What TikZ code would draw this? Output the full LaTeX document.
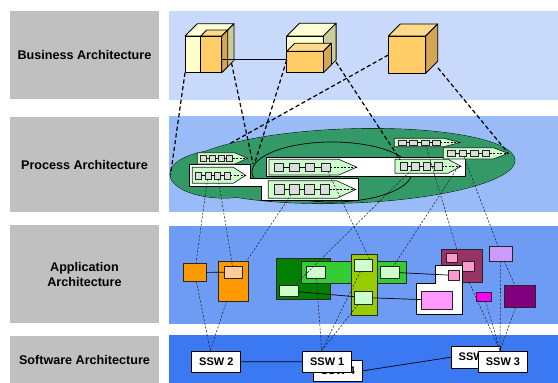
\documentclass[tikz,border=0pt]{standalone}
\usepackage{fontspec}
\setmainfont{Liberation Sans}
\definecolor{lgray}{HTML}{C0C0C0}
\definecolor{bandA}{HTML}{C9D9FB}
\definecolor{bandB}{HTML}{99BBF8}
\definecolor{bandC}{HTML}{6E9CF5}
\definecolor{bandD}{HTML}{3A79F2}
\definecolor{paleF}{HTML}{FFFFCC}
\definecolor{paleT}{HTML}{FFFFD6}
\definecolor{paleS}{HTML}{CCCC99}
\definecolor{orF}{HTML}{FFCC66}
\definecolor{orT}{HTML}{FFD98C}
\definecolor{orS}{HTML}{D4A653}
\definecolor{pgreen}{HTML}{339966}
\definecolor{lgreen}{HTML}{CCFFCC}
\definecolor{sqgray}{HTML}{DDDDDD}
\definecolor{aorange}{HTML}{FF9900}
\definecolor{apeach}{HTML}{FFCC99}
\definecolor{adkgreen}{HTML}{008000}
\definecolor{abrgreen}{HTML}{33CC33}
\definecolor{aygreen}{HTML}{99CC00}
\definecolor{amaroon}{HTML}{993366}
\definecolor{apink}{HTML}{FF99CC}
\definecolor{aviolet}{HTML}{FF99FF}
\definecolor{alilac}{HTML}{CC99FF}
\definecolor{amagenta}{HTML}{FF00FF}
\definecolor{apurple}{HTML}{800080}
\tikzset{
  lbl/.style={fill=lgray, minimum width=149pt, inner sep=0pt, align=center,
    font=\fontsize{12.6}{15}\selectfont\bfseries},
  cubeline/.style={draw=black, line width=0.8pt, line join=round},
  bigdash/.style={line width=1.2pt, dash pattern=on 4.2pt off 2.6pt},
  smalldash/.style={line width=0.55pt, dash pattern=on 2.2pt off 1.6pt, draw=black!85},
  arrowbox/.style={draw=black!85, fill=lgreen, line width=0.7pt},
  sq/.style={draw=black!85, fill=sqgray, line width=0.6pt, inner sep=0pt, outer sep=0pt},
  sqline/.style={line width=0.6pt},
  taildash/.style={line width=0.5pt, dash pattern=on 2pt off 1.5pt},
  wshape/.style={draw=black, fill=white, line width=0.8pt},
  appbox/.style={draw=black!85, line width=0.75pt, inner sep=0pt, outer sep=0pt},
  conn/.style={line width=0.7pt},
  sswbox/.style={draw=black, fill=white, line width=0.7pt, minimum width=49pt,
    minimum height=21.5pt, inner sep=0pt, font=\fontsize{11}{12}\selectfont\bfseries},
}
\newcommand\mycube[8]{%
  \draw[cubeline,fill=#7] (#1,#2) -- ({#1+#5},{#2-#5}) -- ({#1+#3+#5},{#2-#5}) -- ({#1+#3},#2) -- cycle;
  \draw[cubeline,fill=#8] ({#1+#3},#2) -- ({#1+#3+#5},{#2-#5}) -- ({#1+#3+#5},{#2+#4-#5}) -- ({#1+#3},{#2+#4}) -- cycle;
  \draw[cubeline,fill=#6] (#1,#2) rectangle ({#1+#3},{#2+#4});
}
\newcommand\procarrow[9]{%
  \pgfmathsetmacro\arM{(#3+#5)/2}%
  \pgfmathsetmacro\arB{#4-\arTaper}%
  \draw[arrowbox] (#2,#3) -- (\arB,#3) -- (#4,\arM) -- (\arB,#5) -- (#2,#5) -- cycle;
  \foreach \k in {1,...,4}{\node[sq,minimum width=#8,minimum height=#9] (#1s\k) at ({#6+(\k-1)*#7},\arM) {};}
  \draw[sqline] (#1s1) -- (#1s2) (#1s2) -- (#1s3) (#1s3) -- (#1s4);
  \draw[taildash] (#1s4) -- (#4,\arM);
}
\newcommand\abox[6]{\node[appbox,fill=#2,minimum width={#5-#3},minimum height={#6-#4}] (#1) at ({(#3+#5)/2},{(#4+#6)/2}) {};}
\def\arTaper{12}
\begin{document}
\begin{tikzpicture}[x=1pt,y=-1pt]
\useasboundingbox (0,0) rectangle (558,383);
\fill[white] (0,0) rectangle (558,383);
% ---- labels
\node[lbl, minimum height=88pt] (lbus) at (84.5,55) {Business Architecture};
\node[lbl, minimum height=95pt] (lproc) at (84.5,164.5) {Process Architecture};
\node[lbl, minimum height=98pt] (lapp) at (84.5,274) {Application\\Architecture};
\node[lbl, minimum height=47pt] (lsw) at (84.5,359.5) {Software Architecture};
% ---- bands
\fill[bandA] (168.5,11) rectangle (558,100);
\fill[bandB] (168.5,116) rectangle (558,212);
\fill[bandC] (168.5,226) rectangle (558,324);
\fill[bandD] (168.5,335) rectangle (558,383);
% ---- business cubes
\mycube{185}{36}{36.7}{36.7}{12.3}{paleF}{paleT}{paleS}
\mycube{200.7}{36}{21}{36.7}{6}{orF}{orT}{orS}
\mycube{286.7}{36}{36.7}{36.7}{12.7}{paleF}{paleT}{paleS}
\mycube{286.7}{51.3}{36.7}{21.4}{8}{orF}{orT}{orS}
\mycube{388.3}{36}{37.4}{37.3}{12}{orF}{orT}{orS}
\coordinate (c1r) at (221.7,59);
\coordinate (c2l) at (286.7,59);
\draw[line width=0.7pt] (c1r) -- (c2l);
% ---- process layer
\draw[line width=0.8pt] (224,174) ellipse (54 and 24);
\begin{scope}[shift={(348,166)},rotate=2]
  \draw[line width=0.8pt] (0,0) ellipse (167 and 37);
\end{scope}
\fill[pgreen] (224,174) ellipse (54 and 24);
\begin{scope}[shift={(348,166)},rotate=2]
  \fill[pgreen] (0,0) ellipse (167 and 37);
\end{scope}
\draw[line width=0.7pt] (332,172) ellipse (80 and 30);
\draw[wshape] (266,157.7) rectangle (465,176);
\draw[wshape] (189.3,164.3) -- (250.7,164.3) -- (250.7,178.3) -- (358.3,178.3) -- (358.3,200)
  -- (261.7,200) -- (261.7,186.7) -- (189.3,186.7) -- cycle;
\def\arTaper{12.7}\procarrow{A1}{197.3}{152.7}{247.5}{164}{203.7}{8.6}{6}{6.5}
\def\arTaper{12.4}\procarrow{A2}{192.3}{167.3}{245.7}{183.3}{198.6}{9.5}{6.2}{7}
\def\arTaper{18}\procarrow{A3}{269}{159.3}{356.7}{175}{278.7}{15.7}{9.3}{8.3}
\def\arTaper{19}\procarrow{A4}{268.3}{180.7}{355.7}{198.3}{279.2}{15.2}{9.7}{10}
\def\arTaper{16}\procarrow{A5}{394.3}{138.3}{460}{146.7}{402.2}{11.4}{7.7}{4.8}
\def\arTaper{15}\procarrow{A6}{443.3}{147.7}{508.3}{159}{451.2}{11.5}{7.7}{6.5}
\def\arTaper{13}\procarrow{A7}{395}{159.3}{461}{173.3}{403.7}{11.5}{7.5}{7.3}
% ---- thick dashed business -> process
\coordinate (c1a) at (185,72.7);   \coordinate (p1) at (170.5,175);
\coordinate (c1b) at (231.5,63);   \coordinate (p2) at (253,164);
\coordinate (c2a) at (286.7,60);   \coordinate (p3) at (254.5,164);
\coordinate (c3a) at (388.3,55);   \coordinate (p4) at (230,143.5);
\coordinate (c2b) at (336,62);     \coordinate (p5) at (400,159.5);
\coordinate (c3b) at (438,68);     \coordinate (p6) at (508.3,153.3);
\draw[bigdash] (c1a) -- (p1);
\draw[bigdash] (c1b) -- (p2);
\draw[bigdash] (c2a) -- (p3);
\draw[bigdash] (c3a) -- (p4);
\draw[bigdash] (c2b) -- (p5);
\draw[bigdash] (c3b) -- (p6);
% ---- application layer
\abox{oS}{aorange}{183.3}{263.3}{206}{281.7}
\abox{oB}{aorange}{218.3}{261}{248.3}{301}
\abox{peach}{apeach}{224.3}{266}{242.7}{278.3}
\abox{dG}{adkgreen}{276}{258.3}{330.7}{299.3}
\abox{bG}{abrgreen}{301.7}{261}{406.7}{283.3}
\abox{yg}{aygreen}{351}{254}{377.3}{315}
\abox{lb1}{lgreen}{306.7}{266}{325.3}{278.3}
\abox{lb2}{lgreen}{279.3}{285}{298.3}{296.7}
\abox{lb3}{lgreen}{354.3}{259}{372.7}{271}
\abox{lb4}{lgreen}{354.3}{291}{372.7}{304}
\abox{lb5}{lgreen}{380}{266}{399.3}{278.3}
\abox{mar}{amaroon}{441}{249.3}{482.3}{282.3}
\abox{pk1}{apink}{446}{253.3}{457.3}{262.3}
\abox{pk2}{apink}{462.7}{261}{474.7}{271}
\draw[wshape] (435.3,265) -- (462,265) -- (462,314.3) -- (416,314.3) -- (416,283.3) -- (435.3,283.3) -- cycle;
\abox{pk3}{apink}{448.3}{270.7}{459.3}{280}
\abox{pk4}{aviolet}{421}{291}{452}{309.3}
\abox{lil}{alilac}{489.3}{246}{512.3}{261}
\abox{mag}{amagenta}{476.7}{292.3}{491.7}{301}
\abox{pur}{apurple}{504.3}{285}{535}{307.3}
\draw[conn] (oS) -- (peach);
\draw[conn] (lb2) -- (lb4);
\draw[conn] (lb4) -- (pk4);
\draw[conn] (lb5) -- (pk3);
% ---- software layer
\node[sswbox] (ssw2) at (216.3,361.7) {SSW 2};
\node[sswbox] (ssw4) at (338,370.8) {SSW 4};
\node[sswbox] (ssw1) at (327.2,361.8) {SSW 1};
\node[sswbox] (ssw5) at (475.8,357.2) {SSW 5};
\node[sswbox] (ssw3) at (503,361.7) {SSW 3};
\draw[conn] (ssw2) -- (ssw1);
\draw[conn] (ssw4.east) -- (ssw5.west);
% ---- thin dashed traces
\coordinate (A7t) at (458,167);
\draw[smalldash] (A2s2) -- (oS);
\draw[smalldash] (A2s3) -- (peach);
\draw[smalldash] (A4s2) -- (oB);
\draw[smalldash] (A3s4) -- ([xshift=6pt]lb3.north);
\draw[smalldash] (A7s2) -- (lb2);
\draw[smalldash] (A7t) -- (lb5);
\draw[smalldash] (A5s3) -- (mar);
\draw[smalldash] (A6s2) -- (lil);
\draw[smalldash] (lil) -- (pur);
\draw[smalldash] (oS) -- ([xshift=-6pt]ssw2.north);
\draw[smalldash] (oB) -- ([xshift=-6pt]ssw2.north);
\draw[smalldash] (lb1) -- ([xshift=-5.5pt]ssw1.north);
\draw[smalldash] (lb3) -- ([xshift=-5.5pt]ssw1.north);
\draw[smalldash] (lb4) -- ([xshift=-5.5pt]ssw1.north);
\draw[smalldash] (mar) -- ([xshift=-3pt]ssw3.north);
\draw[smalldash] (mag) -- ([xshift=-3pt]ssw3.north);
\draw[smalldash] (lil) -- ([xshift=-3pt]ssw3.north);
\draw[smalldash] (pur) -- ([xshift=-3pt]ssw3.north);
\end{tikzpicture}
\end{document}
